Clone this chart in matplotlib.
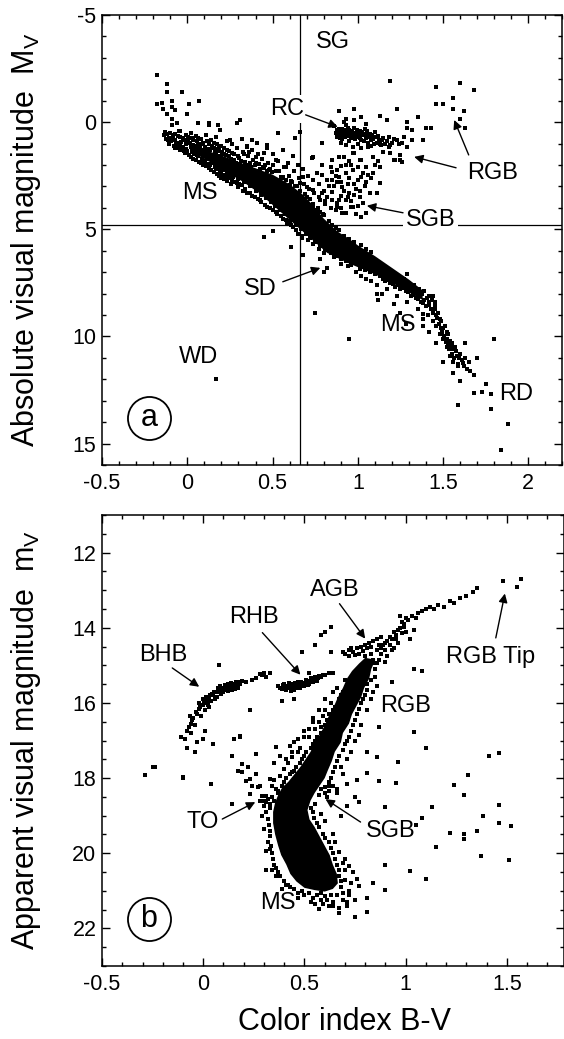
import numpy as np
import matplotlib.pyplot as plt
from matplotlib.ticker import MultipleLocator, FuncFormatter

plt.rcParams['font.family'] = ['Liberation Sans', 'DejaVu Sans']
plt.rcParams['mathtext.default'] = 'regular'
plt.rcParams['axes.unicode_minus'] = False

# ---------------- (a) nearby stars: B-V, M_V ----------------
a_hot_ms = [
    (-0.18, -2.2), (-0.12, -1.8), (-0.12, -1.4), (-0.03, -1.4), (0.07, -1.0), (-0.18, -0.85),
    (-0.15, -0.9), (-0.09, -1.0), (-0.09, -0.7), (0.01, -0.85), (0.0, -0.4), (-0.12, -0.4),
    (-0.09, -0.15), (-0.09, 0.15), (-0.06, 0.05), (-0.05, 0.4), (0.06, 0.05), (0.13, 0.15),
    (0.18, 0.15), (0.31, -0.1), (0.29, 0.05), (0.48, -0.15), (0.53, 0.5), (0.63, 0.75),
    (-0.14, -0.6), (-0.07, -0.55),
    (-0.13, 0.45), (-0.135, 0.62), (-0.125, 0.78), (-0.1, 0.5), (-0.105, 0.72), (-0.095, 0.9),
    (-0.11, 1.02), (-0.07, 0.55), (-0.075, 0.82), (-0.065, 1.0), (-0.07, 1.2), (-0.04, 0.4),
    (-0.045, 0.7), (-0.035, 0.92), (-0.04, 1.1), (-0.045, 1.32), (-0.01, 0.6), (-0.015, 0.85),
    (-0.005, 1.02), (-0.01, 1.25), (-0.015, 1.45), (0.02, 0.5), (0.025, 0.76), (0.015, 0.95),
    (0.02, 1.15), (0.025, 1.4), (0.02, 1.62), (0.05, 0.65), (0.055, 0.9), (0.045, 1.1),
    (0.05, 1.3), (0.055, 1.52), (0.05, 1.75), (0.08, 0.8), (0.085, 1.02), (0.075, 1.2),
    (0.08, 1.45), (0.085, 1.7), (0.08, 1.92), (0.11, 0.6), (0.115, 0.9), (0.105, 1.15),
    (0.11, 1.35), (0.115, 1.6), (0.105, 1.85), (0.11, 2.05), (0.14, 0.85), (0.145, 1.1),
    (0.135, 1.3), (0.14, 1.55), (0.145, 1.8), (0.135, 2.0), (0.14, 2.25), (0.17, 0.7),
    (0.175, 1.0), (0.165, 1.25), (0.17, 1.5), (0.175, 1.75), (0.165, 2.02), (0.17, 2.2),
    (0.175, 2.42), (0.2, 1.1), (0.205, 1.4), (0.195, 1.65), (0.2, 1.9), (0.205, 2.15),
    (0.195, 2.4), (0.2, 2.6), (0.23, 0.9), (0.235, 1.3), (0.225, 1.55), (0.23, 1.8),
    (0.235, 2.3), (0.225, 2.55), (0.23, 2.75), (0.26, 1.0), (0.265, 1.45), (0.255, 1.7),
    (0.26, 2.0), (0.265, 2.7), (0.255, 2.9), (0.29, 1.2), (0.295, 1.6), (0.285, 1.9),
    (0.29, 2.85), (0.295, 3.05), (0.32, 0.8), (0.325, 1.4), (0.315, 1.8), (0.32, 2.95),
    (0.325, 3.2), (0.35, 1.1), (0.355, 1.6), (0.345, 2.0), (0.35, 3.3), (0.38, 1.3),
    (0.385, 1.75), (0.375, 2.1), (0.38, 3.45), (0.41, 0.95), (0.415, 1.5), (0.405, 1.9),
    (0.41, 2.3), (0.415, 3.6), (0.44, 1.7), (0.445, 2.1), (0.435, 3.75), (0.47, 1.2),
    (0.475, 1.9), (0.465, 2.3), (0.47, 3.95), (0.5, 1.5), (0.505, 2.0), (0.495, 2.35),
    (0.5, 4.1), (0.53, 1.8), (0.535, 2.3), (0.525, 4.3), (0.56, 1.3), (0.565, 2.1),
    (0.555, 2.6), (0.56, 4.5), (0.59, 1.9), (0.595, 2.5), (0.585, 4.7), (0.62, 1.6),
    (0.625, 2.3), (0.615, 2.8), (0.62, 4.9), (0.65, 2.0), (0.655, 2.6), (0.645, 3.0),
    (0.65, 5.2), (0.68, 2.2), (0.685, 2.9), (0.675, 5.4), (0.71, 2.5), (0.715, 3.1),
    (0.705, 5.5), (0.74, 2.7), (0.745, 3.3), (0.735, 3.8), (0.74, 5.7), (0.77, 2.9),
    (0.775, 3.5), (0.765, 4.0), (0.77, 5.9), (0.8, 3.2), (0.805, 3.7), (0.795, 4.3),
    (0.8, 6.1), (0.45, 5.34), (0.5, 5.1), (0.61, 5.85), (0.68, 6.2), (0.78, 6.4),
    (0.82, 6.8), (0.8, 7.0), (0.86, 6.3), (0.9, 6.6), (0.94, 6.7),
    (-0.12, 0.55), (-0.115, 0.85), (-0.085, 0.6), (-0.085, 0.8), (-0.08, 1.1), (-0.055, 0.65),
    (-0.055, 0.95), (-0.05, 1.2), (-0.025, 0.75), (-0.025, 1.15), (-0.02, 1.35), (0.005, 0.7),
    (0.005, 0.9), (0.0, 1.35), (0.01, 1.55), (0.035, 0.85), (0.035, 1.05), (0.03, 1.25),
    (0.04, 1.5), (0.035, 1.7), (0.065, 0.75), (0.065, 1.0), (0.06, 1.2), (0.07, 1.4),
    (0.065, 1.6), (0.07, 1.85), (0.095, 0.95), (0.095, 1.3), (0.09, 1.55), (0.1, 1.8),
    (0.095, 2.0), (0.125, 1.0), (0.125, 1.25), (0.13, 1.45), (0.12, 1.7), (0.125, 1.95),
    (0.13, 2.15), (0.155, 0.95), (0.155, 1.2), (0.16, 1.4), (0.15, 1.65), (0.155, 1.9),
    (0.16, 2.1), (0.155, 2.35), (0.185, 1.15), (0.185, 1.35), (0.19, 1.6), (0.18, 1.85),
    (0.185, 2.1), (0.19, 2.3), (0.185, 2.5), (0.215, 1.2), (0.215, 1.5), (0.22, 1.75),
    (0.21, 2.0), (0.215, 2.25), (0.22, 2.45), (0.215, 2.65), (0.245, 1.35), (0.245, 1.6),
    (0.25, 1.85), (0.24, 2.1), (0.245, 2.4), (0.25, 2.6), (0.275, 1.5), (0.275, 1.75),
    (0.28, 2.0), (0.27, 2.55), (0.275, 2.8), (0.305, 1.65), (0.31, 1.95), (0.3, 2.65),
    (0.305, 2.9), (0.335, 1.5), (0.34, 1.85), (0.335, 2.8), (0.34, 3.1), (0.365, 1.9),
    (0.37, 2.0), (0.365, 3.0), (0.37, 3.3), (0.395, 2.0), (0.4, 3.2), (0.395, 3.5),
    (0.425, 2.2), (0.43, 3.4), (0.425, 3.65), (0.455, 2.0), (0.46, 3.55), (0.455, 3.85),
    (0.485, 2.2), (0.49, 3.75), (0.485, 4.0), (0.515, 3.9), (0.52, 4.2), (0.545, 4.1),
    (0.55, 4.4), (0.575, 4.3), (0.58, 4.55), (0.605, 4.6), (0.61, 4.8), (0.635, 4.8),
    (0.64, 5.05), (0.665, 5.0), (0.67, 5.3), (0.695, 5.2), (0.72, 5.4), (0.75, 5.6),
    (0.78, 5.8), (0.81, 5.95), (0.84, 6.1), (0.87, 6.25), (0.9, 6.4), (0.93, 6.5), (0.96, 6.65),
    (0.42, 1.95), (0.45, 2.15), (0.48, 2.25), (0.52, 2.3), (0.55, 2.55), (0.58, 2.7),
    (0.61, 2.75), (0.63, 3.0), (0.66, 3.2), (0.69, 3.35), (0.72, 3.6), (0.74, 3.95),
    (0.76, 4.1), (0.78, 4.2), (0.8, 4.35), (0.83, 4.6), (0.85, 4.8), (0.87, 4.95),
    (0.89, 5.05), (0.92, 5.3), (0.95, 5.45), (0.98, 5.6), (1.02, 5.75), (1.05, 5.9), (1.08, 6.05),
]

a_subgiants = [
    (0.13, 0.06), (0.19, 0.38), (0.25, 0.85), (0.35, 1.17), (0.38, 0.85), (0.47, 1.08),
    (0.36, 1.4), (0.4, 1.63), (0.45, 1.45), (0.52, 1.77), (0.58, 2.1), (0.66, 0.48),
    (0.79, 0.99), (0.73, 1.68), (0.76, 2.38), (0.79, 2.0), (0.68, 2.56), (0.66, 2.84),
    (0.7, 3.03), (0.74, 3.17), (0.79, 3.31), (0.82, 3.49), (0.85, 3.63), (0.85, 3.26),
    (0.7, 3.49), (0.64, 3.63), (0.6, 2.93), (0.56, 2.56),
    (0.85, 1.77), (0.88, 2.24), (0.89, 2.56), (0.93, 2.38), (0.97, 2.24), (1.0, 2.7),
    (0.91, 3.03), (0.95, 3.31), (1.01, 3.49), (0.89, 3.63), (0.97, 3.95), (1.03, 3.77),
    (1.05, 4.23), (0.93, 4.23), (0.88, 3.95), (1.01, 1.77), (1.05, 2.1), (0.97, 1.45),
    (0.89, 1.63), (0.85, 2.7), (0.82, 2.7), (1.13, 2.1), (1.09, 2.38), (1.05, 2.79),
    (1.13, 2.84), (1.11, 3.31), (1.01, 3.2), (1.07, 3.31), (1.03, 2.38), (1.02, 1.77),
    (1.09, 1.63), (1.15, 1.4), (1.21, 1.77), (1.25, 1.77), (1.19, 1.45), (0.93, 3.63),
    (0.96, 3.95), (1.02, 4.41), (0.91, 4.23), (0.88, 3.77), (0.85, 3.26), (0.88, 2.79),
    (0.93, 2.0), (0.96, 2.0), (0.92, 1.63), (0.98, 1.45), (1.06, 1.17), (1.13, 1.0),
    (1.18, 1.17), (1.23, 0.85), (1.26, 0.99), (0.85, 2.33), (0.84, 2.1), (0.74, 1.63),
    (0.79, 2.47), (0.94, 2.9), (0.99, 3.1), (1.08, 2.6), (0.9, 4.0), (0.99, 4.3), (1.04, 3.0),
    (0.86, 3.0), (0.9, 2.8), (0.92, 3.2), (0.94, 3.5), (0.96, 3.7), (0.98, 3.4), (1.0, 3.9),
    (0.87, 4.1), (0.9, 3.45), (0.95, 2.6), (0.98, 2.9), (1.02, 2.55), (1.06, 2.45), (1.1, 2.0),
    (1.12, 1.8), (1.0, 2.1), (0.95, 1.8), (0.9, 2.05), (0.87, 2.5), (0.83, 3.0), (0.81, 3.8),
    (0.84, 4.0), (0.78, 3.65),
]

a_giants = [
    (0.87, 0.5), (0.89, 0.3), (0.9, 0.6), (0.91, 0.8), (0.92, 0.45), (0.93, 0.15), (0.94, 0.65),
    (0.95, 0.35), (0.95, 0.9), (0.96, 0.55), (0.97, 0.75), (0.98, 0.25), (0.99, 0.5), (1.0, 0.7),
    (1.0, 1.0), (1.01, 0.4), (1.02, 0.85), (1.03, 0.6), (1.04, 0.3), (1.05, 0.75), (1.06, 0.95),
    (1.07, 0.55), (1.08, 1.1), (1.09, 0.8), (1.1, 0.45), (1.11, 0.95), (1.12, 0.65),
    (1.14, 0.85), (1.16, 1.0), (1.18, 0.7), (1.2, 0.95), (0.88, 0.7), (0.9, 0.95), (0.93, 1.05),
    (0.97, 1.15), (1.02, 1.2), (0.86, 0.2), (0.92, 0.0), (1.05, 0.1), (0.98, -0.1), (0.9, 0.4),
    (0.92, 0.55), (0.94, 0.45), (0.96, 0.7), (0.93, 0.35), (0.91, 0.6),
    (0.875, 0.35), (0.885, 0.55), (0.895, 0.75), (0.905, 0.3), (0.915, 0.5), (0.925, 0.7),
    (0.935, 0.55), (0.945, 0.25), (0.955, 0.6), (0.965, 0.4), (0.975, 0.6), (0.985, 0.8),
    (0.995, 0.35), (1.005, 0.55), (1.015, 0.75), (1.025, 0.45), (1.035, 0.9), (1.045, 0.55),
    (1.055, 0.4), (1.065, 0.7), (1.075, 0.85), (1.085, 0.6), (1.095, 1.0), (1.105, 0.7),
    (1.125, 0.85), (1.135, 1.05), (1.15, 0.75), (1.17, 0.9), (1.19, 1.05), (1.21, 0.8),
    (1.24, 1.0), (1.27, 0.7),
    (0.89, -0.54), (0.98, -0.63), (0.93, -0.17), (1.02, -0.22), (1.13, -0.31), (1.23, -0.63),
    (1.17, -0.08), (1.29, 0.01), (1.35, -0.22), (1.29, 0.29), (1.32, 0.38), (1.4, 0.29),
    (1.43, 0.25), (1.38, 0.85), (1.32, 0.85), (1.29, 1.17), (1.25, 1.54), (1.22, 1.77),
    (1.26, 1.86), (1.19, -1.93),
    (1.46, -1.65), (1.6, -1.84), (1.68, -1.51), (1.56, -1.14), (1.46, -0.87), (1.5, -0.87),
    (1.56, -0.63), (1.62, -0.54), (1.6, -0.17), (1.63, 0.29),
]

a_cool_ms = [
    (1.0, 6.2), (1.0, 6.5), (1.01, 6.85), (0.99, 7.0), (1.03, 6.3), (1.03, 6.6), (1.04, 6.9),
    (1.02, 7.2), (1.06, 6.4), (1.06, 6.7), (1.07, 7.0), (1.05, 7.3), (1.09, 6.5), (1.09, 6.8),
    (1.1, 7.1), (1.08, 7.4), (1.12, 6.6), (1.12, 6.9), (1.13, 7.2), (1.11, 7.6), (1.15, 6.8),
    (1.15, 7.1), (1.16, 7.4), (1.18, 6.9), (1.18, 7.2), (1.19, 7.5), (1.17, 7.8), (1.21, 7.1),
    (1.21, 7.4), (1.22, 7.7), (1.24, 7.2), (1.24, 7.5), (1.25, 7.8), (1.23, 8.1), (1.27, 7.3),
    (1.27, 7.6), (1.28, 7.9), (1.3, 7.5), (1.3, 7.8), (1.31, 8.1), (1.29, 8.4), (1.33, 7.6),
    (1.33, 7.9), (1.34, 8.2), (1.36, 7.8), (1.36, 8.1), (1.37, 8.4), (1.35, 8.7), (1.39, 7.9),
    (1.39, 8.3), (1.4, 8.6), (1.42, 8.1), (1.42, 8.4), (1.43, 8.7), (1.41, 9.0), (1.45, 8.4),
    (1.45, 8.7), (1.46, 9.0), (1.44, 9.3), (1.47, 8.9), (1.48, 9.2), (1.46, 9.5), (1.49, 9.3),
    (1.5, 9.6), (1.48, 9.9), (1.51, 9.5), (1.52, 9.8), (1.5, 10.1), (1.53, 10.4), (1.53, 9.9),
    (1.54, 10.2), (1.52, 10.5), (1.55, 10.3), (1.56, 10.6), (1.54, 10.9), (1.57, 10.5),
    (1.58, 10.9), (1.56, 11.2), (1.6, 10.8), (1.61, 11.1), (1.59, 11.4), (1.63, 11.0),
    (1.62, 11.4), (1.65, 11.2), (1.66, 11.6),
    (1.015, 6.4), (1.025, 6.75), (1.045, 6.55), (1.055, 6.85), (1.075, 6.6), (1.085, 6.95),
    (1.105, 6.75), (1.115, 7.0), (1.135, 6.85), (1.145, 7.3), (1.165, 7.0), (1.175, 7.35),
    (1.195, 7.15), (1.205, 7.55), (1.225, 7.3), (1.235, 7.6), (1.255, 7.45), (1.265, 7.75),
    (1.285, 7.55), (1.295, 7.95), (1.315, 7.7), (1.325, 8.05), (1.345, 7.85), (1.355, 8.25),
    (1.375, 8.0), (1.385, 8.45), (1.405, 8.2), (1.415, 8.55), (1.435, 8.3), (1.44, 8.9),
    (1.455, 8.6), (1.465, 9.15), (1.475, 9.4), (1.485, 9.6), (1.495, 9.8), (1.505, 10.0),
    (1.515, 10.25), (1.525, 10.1), (1.535, 10.6), (1.545, 10.4), (1.555, 10.8), (1.565, 11.0),
    (1.575, 10.7), (1.585, 11.3), (1.595, 11.0), (1.615, 11.25), (1.64, 11.5),
    (1.38, 9.2), (1.42, 9.8), (1.46, 10.3), (1.5, 11.2), (1.56, 11.7), (1.6, 12.1), (1.68, 11.8),
    (1.68, 12.65), (1.73, 12.6), (1.78, 12.7), (1.75, 12.2), (1.59, 13.2), (1.78, 13.4),
    (1.88, 14.1), (1.84, 15.3), (1.8, 10.1), (0.95, 10.1), (0.75, 8.9), (0.17, 12.0),
    (1.7, 11.0), (1.63, 10.3), (1.25, 8.9), (1.21, 8.5), (1.12, 8.3), (1.28, 9.4),
    (1.29, 7.1), (1.44, 8.1), (1.11, 8.0), (1.14, 8.0), (1.38, 9.5), (1.38, 8.95),
]

# solid core of the main sequence
a_core_bv = [0.05, 0.12, 0.18, 0.25, 0.32, 0.4, 0.5, 0.6, 0.68, 0.74, 0.8, 0.88, 0.95, 1.0,
             1.1, 1.2, 1.3, 1.38,
             1.38, 1.3, 1.2, 1.1, 0.95, 0.82, 0.72, 0.62, 0.52, 0.42, 0.32, 0.22, 0.12, 0.05]
a_core_mv = [1.15, 1.35, 1.5, 1.7, 1.92, 2.15, 2.45, 2.9, 3.4, 3.9, 4.5, 5.1, 5.45, 5.75,
             6.25, 6.8, 7.35, 7.85,
             8.3, 7.95, 7.5, 7.1, 6.6, 6.1, 5.4, 4.7, 4.0, 3.3, 2.75, 2.3, 1.8, 1.5]

sun_bv, sun_mv = 0.66, 4.8

# ---------------- (b) globular cluster: B-V, m_V ----------------
b_hb = [
    (-0.11, 16.9), (-0.08, 16.75), (-0.08, 17.2), (-0.06, 16.55), (-0.05, 16.4), (-0.04, 16.6),
    (-0.03, 16.3), (-0.02, 16.15), (-0.01, 16.35), (0.0, 16.05), (0.01, 16.2), (0.02, 15.95),
    (0.03, 16.1), (0.03, 15.85), (0.04, 15.95), (0.05, 15.8), (0.06, 15.9), (0.07, 15.7),
    (0.07, 15.85), (0.08, 15.65), (0.09, 15.75), (0.1, 15.6), (0.1, 15.72), (0.11, 15.55),
    (0.12, 15.68), (0.13, 15.6), (0.14, 15.5), (0.14, 15.65), (0.15, 15.55), (0.16, 15.45),
    (0.17, 15.6), (0.18, 15.5), (0.19, 15.42), (0.21, 15.45), (0.24, 15.4), (0.26, 15.35),
    (0.29, 15.25), (0.31, 15.3), (0.33, 15.2), (0.08, 15.0), (-0.06, 16.8), (-0.03, 17.05),
    (0.01, 16.75), (0.18, 16.9), (0.23, 16.2), (0.39, 15.95), (-0.04, 17.3), (0.05, 17.1),
    (-0.02, 16.0), (0.0, 15.9), (0.045, 15.75), (0.085, 15.55), (0.12, 15.5), (0.155, 15.62),
    (-0.07, 16.65), (-0.055, 16.45), (-0.035, 16.25), (-0.015, 16.1), (0.005, 16.0),
    (0.015, 15.85), (0.025, 16.05), (0.035, 15.8), (0.055, 15.7), (0.06, 15.85), (0.075, 15.6),
    (0.095, 15.65), (0.105, 15.52), (0.115, 15.65), (0.125, 15.58), (0.135, 15.48),
    (0.145, 15.58), (0.165, 15.52), (0.175, 15.45), (-0.09, 16.95), (-0.065, 16.35),
    (0.37, 15.55), (0.39, 15.62), (0.4, 15.5), (0.41, 15.65), (0.42, 15.55), (0.43, 15.6),
    (0.44, 15.5), (0.45, 15.65), (0.46, 15.55), (0.47, 15.45), (0.48, 15.6), (0.49, 15.5),
    (0.5, 15.55), (0.51, 15.4), (0.52, 15.5), (0.53, 15.35), (0.54, 15.45), (0.55, 15.3),
    (0.56, 15.42), (0.58, 15.3), (0.6, 15.25), (0.62, 15.2), (0.28, 15.23), (0.3, 15.2),
    (0.49, 14.65), (0.55, 14.47), (0.52, 15.2), (0.59, 15.27), (0.64, 15.2), (0.63, 14.65),
    (0.69, 14.65), (0.45, 15.9), (0.405, 15.58), (0.435, 15.68), (0.465, 15.6),
    (0.38, 15.6), (0.395, 15.52), (0.415, 15.6), (0.425, 15.48), (0.445, 15.58), (0.455, 15.48),
    (0.475, 15.55), (0.485, 15.45), (0.505, 15.48), (0.515, 15.52), (0.525, 15.42),
    (0.545, 15.38), (0.565, 15.35), (0.57, 15.28),
]

b_giants = [
    (0.58, 14.2), (0.63, 13.97), (0.6, 14.1), (0.7, 14.7), (0.72, 14.6), (0.74, 14.65),
    (0.76, 14.55), (0.78, 14.5), (0.8, 14.45), (0.82, 14.4), (0.84, 14.35), (0.86, 14.3),
    (0.88, 14.25), (0.72, 14.75), (0.77, 14.7), (0.73, 14.55), (0.75, 14.72), (0.79, 14.62),
    (0.81, 14.55), (0.83, 14.5),
    (0.8, 15.2), (0.82, 15.05), (0.84, 14.95), (0.85, 15.1), (0.87, 14.85), (0.88, 14.7),
    (0.9, 14.6), (0.91, 14.75), (0.92, 14.45), (0.93, 14.3), (0.94, 14.55), (0.95, 14.2),
    (0.96, 14.4), (0.97, 14.0), (0.98, 14.15), (0.99, 13.9), (1.0, 14.1), (1.01, 13.8),
    (1.02, 14.3), (1.03, 13.7), (1.05, 13.75), (1.06, 13.6), (1.08, 13.55), (1.1, 13.5),
    (1.12, 13.45), (1.14, 13.5), (1.16, 13.4), (1.19, 13.45), (1.22, 13.3), (1.24, 13.35),
    (1.27, 13.2), (1.3, 13.15), (1.33, 13.05), (1.35, 12.95), (0.97, 13.68), (0.99, 13.97),
    (1.04, 14.05), (0.9, 14.9), (0.89, 14.45), (0.93, 14.6),
    (0.8, 14.75), (0.83, 14.7), (0.86, 14.6), (0.88, 14.55), (0.9, 14.4), (0.92, 14.25),
    (0.94, 14.1), (0.96, 14.05), (0.98, 13.85), (1.0, 13.75), (0.87, 14.45), (0.91, 14.35),
    (0.95, 14.3),
    (1.48, 12.75), (1.57, 12.7), (1.55, 12.92),
    (0.78, 15.3), (0.76, 15.45), (0.8, 15.0), (0.78, 15.15), (0.82, 14.95), (0.75, 15.25),
    (0.74, 15.5), (0.84, 14.85), (0.86, 14.95),
]

b_rgb_edge = [
    (0.69, 15.7), (0.67, 15.9), (0.65, 16.1), (0.62, 16.3), (0.6, 16.6), (0.58, 16.8),
    (0.55, 17.0), (0.53, 17.2), (0.5, 17.4), (0.48, 17.6), (0.45, 17.8), (0.43, 17.9),
    (0.4, 18.1), (0.36, 18.3), (0.66, 15.6), (0.63, 16.0), (0.57, 16.5), (0.52, 16.9),
    (0.47, 17.3), (0.42, 17.6), (0.38, 17.95), (0.34, 18.2), (0.6, 16.2), (0.55, 16.7),
    (0.81, 15.5), (0.8, 15.8), (0.78, 16.0), (0.76, 16.3), (0.74, 16.6), (0.72, 16.9),
    (0.7, 17.1), (0.67, 17.4), (0.65, 17.7), (0.63, 18.0), (0.62, 18.2), (0.6, 18.4),
    (0.84, 15.7), (0.81, 16.2), (0.78, 16.6), (0.75, 17.0), (0.71, 17.5), (0.69, 17.9),
    (0.66, 18.3), (0.85, 15.3), (0.83, 15.9),
    (0.7, 15.4), (0.68, 15.8), (0.64, 16.2), (0.61, 16.45), (0.58, 16.65), (0.56, 16.9),
    (0.54, 17.1), (0.51, 17.3), (0.49, 17.5), (0.46, 17.7), (0.44, 17.85), (0.41, 18.0),
    (0.39, 18.2), (0.37, 18.4),
    (0.83, 15.4), (0.81, 15.65), (0.79, 15.9), (0.77, 16.15), (0.75, 16.45), (0.73, 16.75),
    (0.71, 17.0), (0.69, 17.25), (0.66, 17.55), (0.64, 17.85), (0.62, 18.1),
    (0.58, 18.3), (0.6, 18.25), (0.62, 18.35), (0.64, 18.2), (0.57, 18.45), (0.61, 18.5),
    (0.66, 18.4),
    (0.57, 16.2), (0.5, 16.75), (0.44, 17.45), (0.4, 17.75), (0.35, 18.05), (0.73, 17.3),
    (0.77, 16.85), (0.86, 15.55), (0.68, 17.7), (0.54, 16.4),
]

b_ms_edge = [
    (0.33, 18.7), (0.31, 18.9), (0.32, 19.1), (0.33, 19.4), (0.32, 19.7), (0.34, 20.0),
    (0.35, 20.3), (0.37, 20.5), (0.4, 20.75), (0.43, 20.9), (0.47, 21.05), (0.3, 18.6),
    (0.34, 18.5), (0.29, 19.0), (0.33, 19.9), (0.36, 20.6),
    (0.33, 18.8), (0.325, 19.25), (0.33, 19.55), (0.335, 19.8), (0.345, 20.15), (0.36, 20.4),
    (0.38, 20.6), (0.41, 20.85), (0.45, 20.95), (0.49, 21.0), (0.35, 18.6), (0.37, 18.35),
    (0.55, 18.7), (0.54, 18.9), (0.56, 19.2), (0.59, 19.5), (0.62, 19.7), (0.64, 20.0),
    (0.66, 20.3), (0.67, 20.6), (0.68, 20.9), (0.66, 21.1), (0.6, 21.15), (0.56, 21.1),
    (0.52, 21.05), (0.7, 20.7), (0.72, 21.0), (0.71, 21.3), (0.64, 21.3), (0.58, 21.25),
    (0.62, 21.4), (0.67, 21.45),
    (0.53, 18.8), (0.545, 19.05), (0.57, 19.3), (0.6, 19.6), (0.63, 19.85), (0.65, 20.15),
    (0.67, 20.45), (0.68, 20.75), (0.69, 21.05), (0.63, 21.1), (0.58, 21.05), (0.54, 21.2),
    (0.5, 21.1), (0.61, 21.25), (0.69, 21.25), (0.73, 20.8), (0.7, 20.45),
    (0.81, 21.2), (0.81, 21.57), (0.75, 21.7), (0.67, 21.6), (0.64, 21.4), (0.59, 21.36),
    (0.55, 21.36), (0.57, 21.49), (0.71, 21.41), (0.75, 21.25), (0.72, 21.1), (0.77, 20.86),
    (0.76, 20.69), (0.74, 20.5), (0.72, 20.35), (0.7, 20.15), (0.67, 19.98), (0.64, 19.49),
    (0.68, 19.0), (0.71, 18.75), (0.77, 18.64), (0.75, 18.5), (0.71, 18.16), (0.76, 18.05),
    (0.9, 18.77), (0.84, 20.8), (0.9, 20.99), (0.9, 20.32), (0.42, 20.85), (0.31, 20.45),
    (0.3, 19.35), (0.31, 19.95), (0.34, 20.45), (0.58, 18.95), (0.6, 19.15), (0.65, 19.7),
    (0.69, 20.25), (0.39, 20.95), (0.47, 21.2), (0.53, 21.3),
]

b_turnoff = [
    (0.14, 17.42), (0.19, 17.63), (0.17, 17.82), (0.22, 17.71), (0.21, 18.07), (0.24, 18.2),
    (0.23, 18.43), (0.28, 18.2), (0.29, 18.47), (0.33, 18.03), (0.31, 18.64), (0.15, 16.96),
    (0.26, 17.36), (0.36, 17.17), (0.43, 17.14), (0.47, 16.96), (0.18, 16.88), (0.23, 16.2),
    (0.54, 16.5), (0.52, 16.7), (0.59, 16.35), (0.6, 15.9), (0.64, 15.7), (0.04, 18.16),
    (-0.1, 17.97), (-0.24, 17.71), (0.0, 16.96), (0.14, 18.7), (-0.29, 17.92), (-0.25, 17.71),
    (-0.1, 18.0), (0.19, 17.85), (0.23, 18.03), (0.27, 18.25), (0.31, 18.47), (0.28, 18.6),
    (0.3, 18.75), (0.32, 18.55), (0.26, 17.9), (0.35, 17.6), (0.38, 17.4), (0.41, 17.5),
    (0.44, 17.3), (0.48, 17.2), (0.5, 16.9), (0.45, 17.05),
]

b_field = [
    (0.81, 17.87), (0.87, 18.08), (0.95, 18.13), (1.31, 17.92), (1.24, 18.19), (1.29, 18.45),
    (1.46, 18.72), (1.38, 19.0), (1.46, 19.2), (1.52, 19.28), (1.35, 19.41), (1.29, 19.49),
    (1.29, 19.63), (1.22, 19.47), (1.13, 18.78), (1.08, 19.07), (1.05, 19.25), (1.15, 19.84),
    (1.37, 20.08), (1.51, 20.19), (1.02, 20.48), (1.1, 20.69),
    (1.08, 15.14), (1.04, 15.1), (0.93, 15.45), (0.87, 16.64), (1.04, 16.78), (1.1, 17.2),
    (0.96, 17.57), (1.41, 17.42), (1.46, 17.33), (0.86, 17.45), (0.81, 17.31),
]

# solid core of the RGB / turn-off / main sequence
b_core_bv = [0.85, 0.83, 0.82, 0.795, 0.78, 0.76, 0.735, 0.72, 0.69, 0.68, 0.65, 0.635,
             0.615, 0.6, 0.575, 0.55, 0.53, 0.515, 0.525, 0.55, 0.575, 0.6, 0.625, 0.64,
             0.66, 0.665, 0.64, 0.6,
             0.55, 0.5, 0.46, 0.43, 0.41, 0.385, 0.37, 0.355, 0.345, 0.345, 0.355, 0.37,
             0.39, 0.42, 0.45, 0.48, 0.505, 0.53, 0.55, 0.575, 0.6, 0.62, 0.645, 0.665,
             0.69, 0.71, 0.735, 0.77, 0.8]
b_core_mv = [14.85, 15.1, 15.35, 15.6, 15.85, 16.05, 16.3, 16.55, 16.8, 17.05, 17.3, 17.55,
             17.8, 18.0, 18.2, 18.4, 18.6, 18.85, 19.1, 19.3, 19.55, 19.8, 20.05, 20.3,
             20.55, 20.8, 20.95, 21.02,
             20.98, 20.92, 20.75, 20.55, 20.3, 20.05, 19.8, 19.5, 19.2, 18.9, 18.65, 18.45,
             18.25, 18.1, 17.9, 17.7, 17.5, 17.3, 17.05, 16.85, 16.6, 16.35, 16.1, 15.85,
             15.6, 15.35, 15.15, 14.95, 14.8]


def plot_stars(ax, groups, core_x, core_y):
    ax.fill(core_x, core_y, color='black', lw=0, zorder=3)
    for g in groups:
        arr = np.array(g)
        ax.plot(arr[:, 0], arr[:, 1], 's', color='black', ms=2.6, mew=0,
                linestyle='none', zorder=3)


def style_axes(ax, xmajor, xminor, ymajor, yminor):
    ax.xaxis.set_major_locator(MultipleLocator(xmajor))
    ax.xaxis.set_minor_locator(MultipleLocator(xminor))
    ax.yaxis.set_major_locator(MultipleLocator(ymajor))
    ax.yaxis.set_minor_locator(MultipleLocator(yminor))
    fmt = FuncFormatter(lambda v, p: '%g' % round(v, 2))
    ax.xaxis.set_major_formatter(fmt)
    ax.yaxis.set_major_formatter(fmt)
    ax.tick_params(which='both', direction='in', top=True, right=True, width=1.0,
                   labelsize=15.5)
    ax.tick_params(which='major', length=6)
    ax.tick_params(which='minor', length=3.2)
    ax.tick_params(axis='x', pad=6)
    ax.tick_params(axis='y', pad=4)
    for s in ax.spines.values():
        s.set_linewidth(1.1)


def label(ax, text, xy, white=False):
    bbox = dict(fc='white', ec='none', pad=2) if white else None
    ax.text(xy[0], xy[1], text, fontsize=17, ha='center', va='center', zorder=5, bbox=bbox)


def arrow(ax, tail, head):
    ax.annotate('', xy=head, xytext=tail,
                arrowprops=dict(arrowstyle='-|>', color='black', lw=1.0,
                                mutation_scale=13, shrinkA=0, shrinkB=0), zorder=5)


def panel_tag(ax, x, y, letter):
    ax.plot([x], [y], 'o', ms=31, mfc='none', mec='black', mew=1.3, zorder=5)
    ax.text(x, y, letter, fontsize=22, ha='center', va='center', zorder=5)


fig = plt.figure(figsize=(5.64, 10.39), dpi=100)

# panel (a)
ax1 = fig.add_axes([0.1809, 0.55246, 0.9973 - 0.1809, 0.4331])
ax1.axvline(sun_bv, color='black', lw=0.9, zorder=1)
ax1.axhline(sun_mv, color='black', lw=0.9, zorder=1)
plot_stars(ax1, [a_hot_ms, a_subgiants, a_giants, a_cool_ms], a_core_bv, a_core_mv)
ax1.set_xlim(-0.5, 2.2)
ax1.set_ylim(16, -5)
style_axes(ax1, 0.5, 0.1, 5, 1)
ax1.set_ylabel(r'Absolute visual magnitude  M$_{V}$', fontsize=22)
ax1.yaxis.set_label_coords(-0.128, 0.5)

label(ax1, 'SG', (0.853, -3.74))
label(ax1, 'RC', (0.585, -0.62), white=True)
arrow(ax1, (0.694, -0.34), (0.882, 0.22))
label(ax1, 'RGB', (1.79, 2.39))
arrow(ax1, (1.576, 2.13), (1.33, 1.62))
arrow(ax1, (1.65, 1.53), (1.565, -0.1))
label(ax1, 'SGB', (1.426, 4.56), white=True)
arrow(ax1, (1.265, 4.23), (1.053, 3.9))
label(ax1, 'MS', (0.076, 3.32))
label(ax1, 'SD', (0.43, 7.77))
arrow(ax1, (0.56, 7.45), (0.78, 6.8))
label(ax1, 'MS', (1.235, 9.45))
label(ax1, 'WD', (0.068, 10.97))
label(ax1, 'RD', (1.93, 12.67))
panel_tag(ax1, -0.226, 13.83, 'a')

# panel (b)
ax2 = fig.add_axes([0.1809, 0.07026, 0.9993 - 0.1809, 0.50433 - 0.07026])
plot_stars(ax2, [b_hb, b_giants, b_rgb_edge, b_ms_edge, b_turnoff, b_field],
           b_core_bv, b_core_mv)
ax2.set_xlim(-0.5, 1.78)
ax2.set_ylim(23, 11)
style_axes(ax2, 0.5, 0.1, 2, 0.5)
ax2.set_ylabel(r'Apparent visual magnitude  m$_{V}$', fontsize=22)
ax2.yaxis.set_label_coords(-0.128, 0.5)
ax2.set_xlabel('Color index B-V', fontsize=22, labelpad=6)
ax2.xaxis.set_label_coords(0.525, -0.09)

label(ax2, 'BHB', (-0.2, 14.73))
arrow(ax2, (-0.153, 15.07), (-0.02, 15.57))
label(ax2, 'RHB', (0.252, 13.72))
arrow(ax2, (0.292, 14.13), (0.48, 15.25))
label(ax2, 'AGB', (0.651, 12.99))
arrow(ax2, (0.673, 13.36), (0.8, 14.29))
label(ax2, 'RGB Tip', (1.42, 14.77))
arrow(ax2, (1.445, 14.27), (1.49, 13.09))
label(ax2, 'RGB', (1.0, 16.09))
label(ax2, 'TO', (-0.0025, 19.16))
arrow(ax2, (0.094, 19.09), (0.257, 18.64))
label(ax2, 'SGB', (0.926, 19.41))
arrow(ax2, (0.777, 19.17), (0.604, 18.56))
label(ax2, 'MS', (0.371, 21.33))
panel_tag(ax2, -0.27, 21.75, 'b')

fig.savefig('out.png', dpi=100)
